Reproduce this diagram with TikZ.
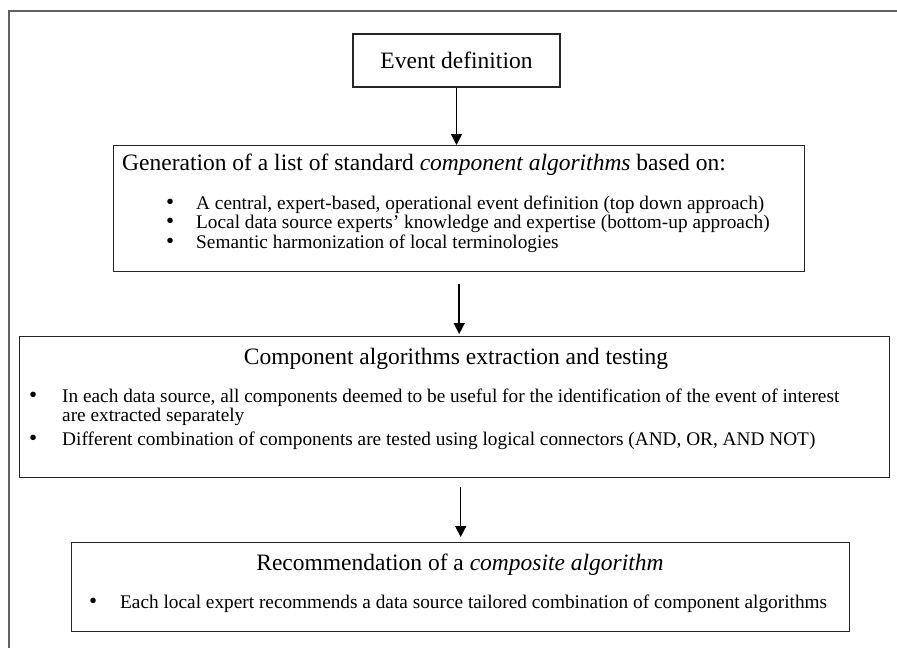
\documentclass[tikz,border=0pt]{standalone}
\usepackage{fontspec}
\setmainfont{Liberation Serif}
\usetikzlibrary{arrows.meta}

\tikzset{
  stepbox/.style={draw=black!85, line width=1.4pt, inner sep=0pt},
  titletext/.style={font=\fontsize{23.5}{27}\selectfont, inner sep=0pt},
  itemtext/.style={font=\fontsize{19.3}{19.5}\selectfont, inner sep=0pt, anchor=base west, align=left},
  flow/.style={-{Triangle[length=11pt,width=11pt]}, line width=1.5pt}
}
\newcommand{\bul}[1]{\makebox[#1][l]{\smash{\fontsize{23}{20}\selectfont\textbullet}}}

\begin{document}
\begin{tikzpicture}[x=1pt,y=1pt,yscale=-1]
\useasboundingbox (0,0) rectangle (897,648);

%outer frame (cut at right and bottom)
\draw[black!62, line width=2.2pt] (897,11) -- (9,11) -- (9,648);

%Boxes
\node[stepbox, titletext, minimum width=207pt, minimum height=53pt] (evt) at (456.5,60.5) {Event definition};
\node[stepbox, minimum width=691pt, minimum height=126pt, anchor=north west] (gen) at (113,145) {};
\node[stepbox, minimum width=870pt, minimum height=141pt, anchor=north west] (comp) at (19,336) {};
\node[stepbox, minimum width=778pt, minimum height=89pt, anchor=north west] (rec) at (71,542) {};

% Text Node (base = last line)
\node[titletext, anchor=base west] (gentitle) at (122,170) {Generation of a list of standard \textit{component algorithms} based on:};
\node[itemtext] (genlist) at (166,248) {\bul{30pt}A central, expert-based, operational event definition (top down approach)\\
  \bul{30pt}Local data source experts’ knowledge and expertise (bottom-up approach)\\
  \bul{30pt}Semantic harmonization of local terminologies};

% Text Node
\node[titletext, anchor=base] (comptitle) at (456,364) {Component algorithms extraction and testing};
\node[itemtext] (complist) at (29,445) {\bul{33pt}In each data source, all components deemed to be useful for the identification of the event of interest\\
  \hspace*{33pt}are extracted separately\\[4pt]
  \bul{33pt}Different combination of components are tested using logical connectors (AND, OR, AND NOT)};

% Text Node
\node[titletext, anchor=base] (rectitle) at (460,570) {Recommendation of a \textit{composite algorithm}};
\node[itemtext] (recone) at (89,608) {\bul{31pt}Each local expert recommends a data source tailored combination of component algorithms};

%Arrows
\draw[flow] (evt.south) -- (evt.south |- gen.north);
\draw[flow, shorten <=12pt, shorten >=2pt] (gen.south) -- (gen.south |- comp.north);
\draw[flow, shorten <=9pt, shorten >=5pt] (comp.south -| rec.north) -- (rec.north);

\end{tikzpicture}
\end{document}
